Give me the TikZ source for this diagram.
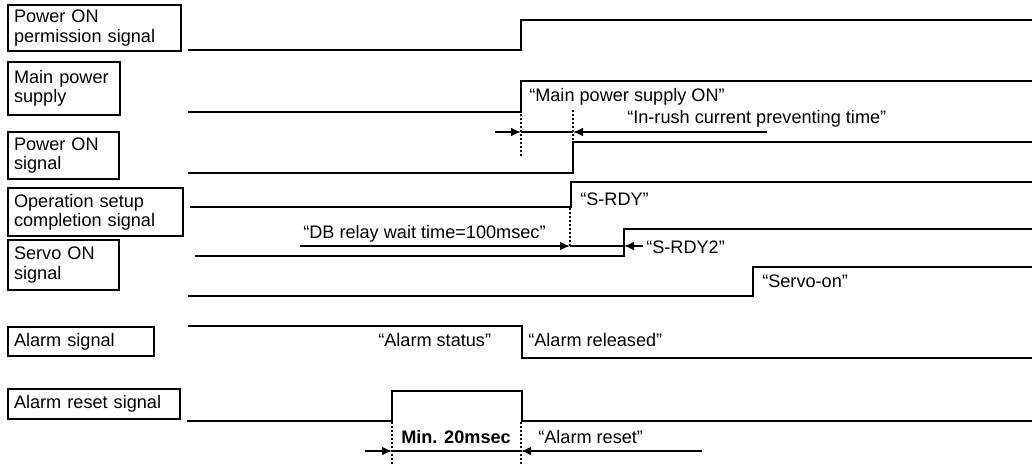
\documentclass[tikz,border=0pt]{standalone}
\usepackage{fontspec}
\setmainfont{Liberation Sans}
\usetikzlibrary{arrows.meta}
\begin{document}
\begin{tikzpicture}[x=0.75pt,y=-0.75pt,
  font=\fontsize{13.6}{14.5}\selectfont,
  lbl/.style={draw, line width=1.1pt, inner xsep=4.5pt, inner ysep=0pt, align=left, anchor=center},
  sig/.style={line width=2.2pt, line join=miter},
  ann/.style={inner sep=0pt, anchor=base west},
  dim/.style={line width=1.1pt},
  dimarrow/.style={line width=1.1pt, -{Latex[length=7.5pt,width=6.5pt]}},
  guide/.style={line width=0.9pt, dash pattern=on 1.4pt off 1.6pt}]
\useasboundingbox (0,0) rectangle (1032,464);

% signal name boxes
\node[lbl, text width=120.75pt, minimum height=34.5pt] (l1) at (94.5,28) {Power ON\\permission signal};
\node[lbl, text width=75pt, minimum height=39.75pt] (l2) at (64,88.5) {Main power\\supply};
\node[lbl, text width=74.25pt, minimum height=35.25pt] (l3) at (63.5,155.5) {Power ON\\signal};
\node[lbl, text width=122.25pt, minimum height=36pt] (l4) at (95.5,212) {Operation setup\\completion signal};
\node[lbl, text width=74.25pt, minimum height=37.5pt] (l5) at (63.5,265) {Servo ON\\signal};
\node[lbl, text width=100.5pt, minimum height=21.75pt] (l6) at (81,341.5) {Alarm signal};
\node[lbl, text width=120pt, minimum height=22.5pt] (l7) at (94,404) {Alarm reset signal};

% waveforms
\draw[sig] (188,50) -- (521,50) -- (521,20) -- (1032,20);
\draw[sig] (188,112) -- (521,112) -- (521,81) -- (1032,81);
\draw[sig] (188,173) -- (573,173) -- (573,142) -- (1032,142);
\draw[sig] (190,207) -- (571,207) -- (571,182) -- (1032,182);
\draw[sig] (195,256) -- (624,256) -- (624,229) -- (1032,229);
\draw[sig] (188,296) -- (753,296) -- (753,267) -- (1032,267);
\draw[sig] (188,326) -- (522,326) -- (522,358) -- (1032,358);
\draw[sig] (187,421) -- (392,421) -- (392,391) -- (522,391) -- (522,421) -- (1032,421);

% dotted guides
\draw[guide] (521,114) -- (521,157);
\draw[guide] (573,110) -- (573,142);
\draw[guide] (570,208) -- (570,246);
\draw[guide] (392,422) -- (392,464);
\draw[guide] (521,422) -- (521,464);

% in-rush dimension
\coordinate (a1) at (495,132);
\coordinate (a2) at (521,132);
\coordinate (a3) at (573,132);
\coordinate (a4) at (767,132);
\draw[dimarrow] (a1) -- (a2);
\draw[dim] (a2) -- (a3);
\draw[dimarrow] (a4) -- (a3);

% DB relay dimension
\coordinate (b1) at (300,246);
\coordinate (b2) at (570,246);
\coordinate (b3) at (624,246);
\coordinate (b4) at (643,246);
\draw[dimarrow] (b1) -- (b2);
\draw[dim] (b2) -- (b3);
\draw[dimarrow] (b4) -- (b3);

% alarm reset dimension
\coordinate (c1) at (365,451);
\coordinate (c2) at (392,451);
\coordinate (c3) at (521,451);
\coordinate (c4) at (702,451);
\draw[dimarrow] (c1) -- (c2);
\draw[dim] (c2) -- (c3);
\draw[dimarrow] (c4) -- (c3);

% annotations
\node[ann] (t1) at (529,101) {“Main power supply ON”};
\node[ann] (t2) at (627,123) {“In-rush current preventing time”};
\node[ann] (t3) at (580,205) {“S-RDY”};
\node[ann] (t4) at (303,238) {“DB relay wait time=100msec”};
\node[ann] (t5) at (646,253) {“S-RDY2”};
\node[ann] (t6) at (762,287) {“Servo-on”};
\node[ann] (t7) at (378,346) {“Alarm status”};
\node[ann] (t8) at (528,346) {“Alarm released”};
\node[ann, font=\fontsize{13.6}{14.5}\selectfont\bfseries] (t9) at (401,443) {Min. 20msec};
\node[ann] (t10) at (538,443) {“Alarm reset”};
\end{tikzpicture}
\end{document}
